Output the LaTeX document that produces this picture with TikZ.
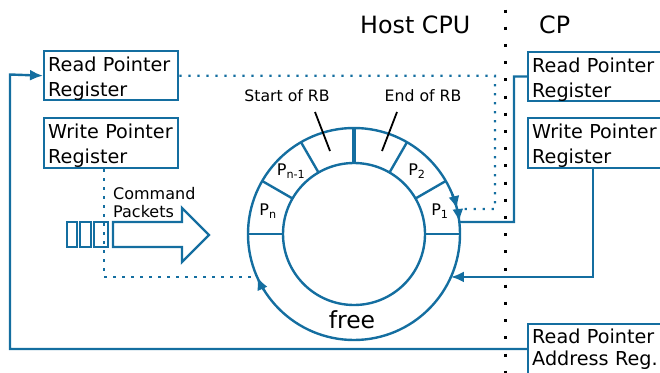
\documentclass[tikz,border=0pt]{standalone}
\usepackage{fontspec}
\setmainfont{DejaVu Sans}
\usetikzlibrary{arrows.meta,calc}
\definecolor{rb}{RGB}{20,110,160}
\begin{document}
\begin{tikzpicture}[x=1pt,y=-1pt,
  conn/.style={rb,line width=2.4pt},
  dots/.style={rb,line width=2.2pt,dash pattern=on 2.2pt off 6.8pt},
  tipline/.style={rb,line width=2.4pt,-{Latex[length=13pt,width=11pt]}},
  reg/.style={draw=rb,line width=2.4pt,inner xsep=4pt,inner ysep=0pt,text width=126pt,
     align=left,font=\fontsize{19.2}{24.5}\selectfont,anchor=north west,text height=20.5pt},
  ringline/.style={rb,line width=2.4pt},
  seglabel/.style={inner sep=0pt,font=\fontsize{16}{18}\selectfont},
  small/.style={inner sep=0pt,font=\fontsize{15.7}{18}\selectfont},
  big/.style={inner sep=0pt,font=\fontsize{23.8}{28}\selectfont,anchor=base west}
]
\useasboundingbox (0,0) rectangle (660,372);
\clip (0,0) rectangle (660,372);

% separator
\draw[black,line width=3pt,dash pattern=on 3pt off 14.2pt] (505,9.5) -- (505,380);
\node[big] (host) at (360,33) {Host CPU};
\node[big] (cp) at (539,33) {CP};

% registers
\node[reg,text depth=28.5pt] (lrp) at (43,50) {Read Pointer\\Register};
\node[reg,text depth=29.5pt] (lwp) at (43,117) {Write Pointer\\Register};
\node[reg,text width=200pt,text depth=28pt] (crp) at (527,51) {Read Pointer\\Register};
\node[reg,text width=200pt,text depth=29pt] (cwp) at (527,117) {Write Pointer\\Register};
\node[reg,text width=200pt,text depth=30pt,font=\fontsize{19.2}{22}\selectfont,text height=19.5pt] (rpa) at (527,323) {Read Pointer\\Address Reg.};

% ring
\coordinate (c) at (354,234);
\draw[ringline] (c) circle[radius=106];
\draw[ringline] (c) circle[radius=71];
\foreach \a in {0,-30,-60,-120,-150,-180}
  \draw[ringline] ($(c)+(\a:71)$) -- ($(c)+(\a:106)$);
\draw[rb,line width=3.8pt] ($(c)+(-90:71)$) -- ($(c)+(-90:106)$);

\node[seglabel] (pn) at ($(c)+(-165:89)$) {P\textsubscript{n}};
\node[seglabel] (pn1) at ($(c)+(-135:89)$) {P\textsubscript{n-1}};
\node[seglabel] (p2) at ($(c)+(-45:89)$) {P\textsubscript{2}};
\node[seglabel] (p1) at ($(c)+(-15:89)$) {P\textsubscript{1}};
\node[inner sep=0pt,font=\fontsize{23.5}{28}\selectfont,anchor=base] (free) at (352,328) {free};

\node[small,anchor=base] (srb) at (287,101) {Start of RB};
\node[small,anchor=base] (erb) at (423,101) {End of RB};
\coordinate (sa) at (315,112); \coordinate (sb) at (330,151);
\coordinate (ea) at (397,112); \coordinate (eb) at (382,151);
\draw[black,line width=1.8pt] (sa) -- (sb);
\draw[black,line width=1.8pt] (ea) -- (eb);

% points on the ring
\coordinate (pR1) at ($(c)+(-13.6:106)$);
\coordinate (pR2) at ($(c)+(-6.5:106)$);
\coordinate (pW1) at ($(c)+(156.1:106)$);
\coordinate (pW2) at ($(c)+(23.9:106)$);

% command packets
\draw[conn] (67,222) rectangle (77,247);
\draw[conn] (80,222) rectangle (91,247);
\draw[conn] (94,222) rectangle (108,247);
\draw[conn,line join=miter] (113,222) -- (182,222) -- (182,208) -- (209,235) -- (182,262) -- (182,247) -- (113,247) -- cycle;
\node[small,anchor=base west,align=left,font=\fontsize{16}{18}\selectfont] (cmd) at (113,217) {Command\\Packets};

% connectors
\draw[dots] (lrp.east) -| (495,209) -- (pR1);
\draw[tipline] ($(c)+(-22:106)$) arc[start angle=-22,end angle=-13.6,radius=106];
\draw[conn] (crp.west) -| (514,222) -- (pR2);
\draw[tipline] ($(c)+(-14:106)$) arc[start angle=-14,end angle=-6.5,radius=106];
\draw[tipline] ([xshift=66]cwp.south west) |- (pW2);
\draw[dots] ([xshift=61]lwp.south west) |- (pW1);
\draw[tipline] ($(c)+(148:106)$) arc[start angle=148,end angle=156.1,radius=106];
\draw[tipline] (rpa.west) -| (10,74.5) -- (lrp.west);
\end{tikzpicture}
\end{document}
